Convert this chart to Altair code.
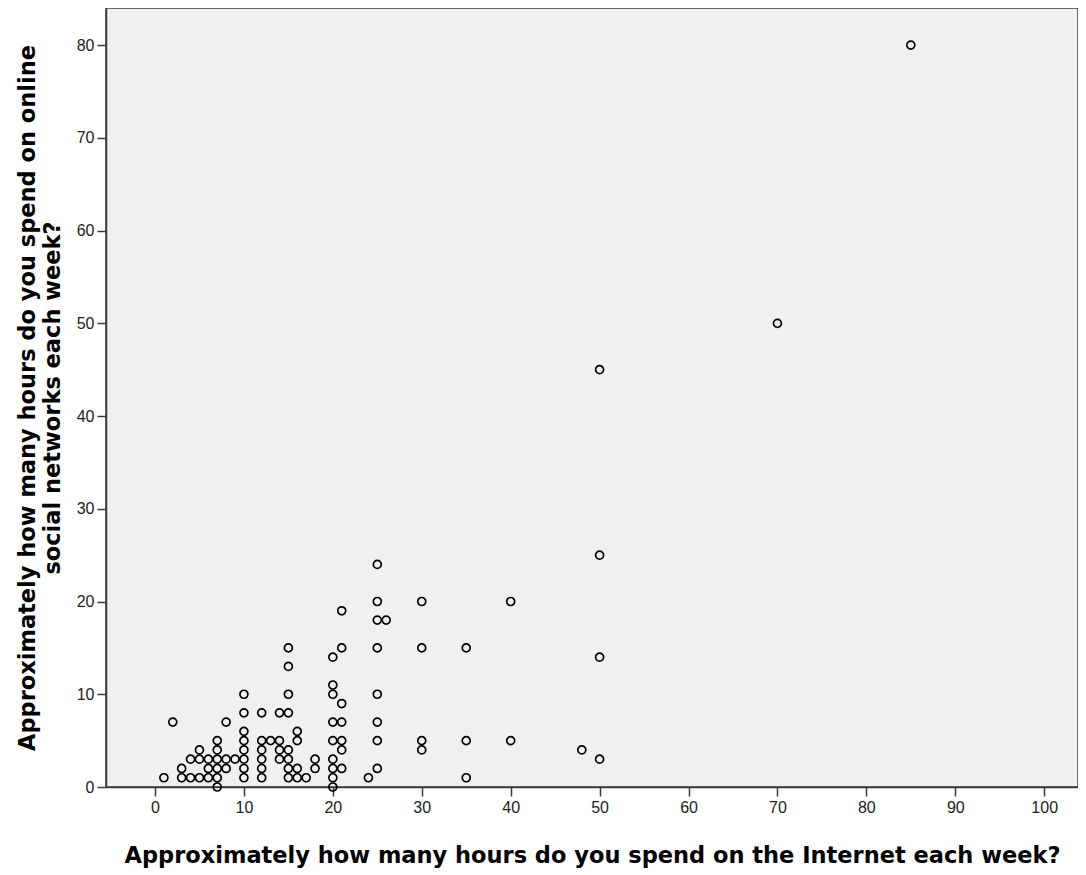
import altair as alt
import pandas as pd

internet_hours = [
    1, 2, 3, 3, 4, 4, 5, 5, 5, 6, 6, 6,
    7, 7, 7, 7, 7, 7, 8, 8, 8, 9,
    10, 10, 10, 10, 10, 10, 10, 10,
    12, 12, 12, 12, 12, 12, 13, 14, 14, 14, 14,
    15, 15, 15, 15, 15, 15, 15, 15,
    16, 16, 16, 16, 17, 18, 18,
    20, 20, 20, 20, 20, 20, 20, 20, 20,
    21, 21, 21, 21, 21, 21, 21, 24,
    25, 25, 25, 25, 25, 25, 25, 25, 26,
    30, 30, 30, 30, 35, 35, 35, 40, 40, 48,
    50, 50, 50, 50, 70, 85,
]
social_hours = [
    1, 7, 1, 2, 1, 3, 1, 3, 4, 1, 2, 3,
    0, 1, 2, 3, 4, 5, 2, 3, 7, 3,
    1, 2, 3, 4, 5, 6, 8, 10,
    1, 2, 3, 4, 5, 8, 5, 3, 4, 5, 8,
    1, 2, 3, 4, 8, 10, 13, 15,
    1, 2, 5, 6, 1, 2, 3,
    0, 1, 2, 3, 5, 7, 10, 11, 14,
    2, 4, 5, 7, 9, 15, 19, 1,
    2, 5, 7, 10, 15, 18, 20, 24, 18,
    4, 5, 15, 20, 1, 5, 15, 5, 20, 4,
    3, 14, 25, 45, 50, 80,
]

x_ticks = list(range(0, 101, 10))
y_ticks = list(range(0, 81, 10))

df = pd.DataFrame({"internet": internet_hours, "social": social_hours})

title_font = "DejaVu Sans"

chart = (
    alt.Chart(df)
    .mark_point(shape="circle", filled=False, color="#000000", strokeWidth=1.7, size=64, opacity=1)
    .encode(
        x=alt.X(
            "internet:Q",
            scale=alt.Scale(domain=[-5.51, 103.8], nice=False, zero=False),
            axis=alt.Axis(
                values=x_ticks,
                title="Approximately how many hours do you spend on the Internet each week?",
                titleFontSize=22.5,
                titleFontWeight="bold",
                titleFont=title_font,
                titleColor="#000000",
                titlePadding=29,
            ),
        ),
        y=alt.Y(
            "social:Q",
            scale=alt.Scale(domain=[0, 84.0], nice=False),
            axis=alt.Axis(
                values=y_ticks,
                title=["Approximately how many hours do you spend on online", "social networks each week?"],
                titleFontSize=22.5,
                titleFontWeight="bold",
                titleFont=title_font,
                titleColor="#000000",
                titlePadding=12,
                titleLineHeight=25,
            ),
        ),
    )
    .properties(
        width=972,
        height=779,
        autosize=alt.AutoSizeParams(type="none"),
        padding={"left": 98, "top": 0, "right": 0, "bottom": 85},
    )
    .configure_view(fill="#F0F0F0", stroke="#3a3a3a", strokeWidth=1.5)
    .configure_axis(
        grid=False,
        domainColor="#3a3a3a",
        domainWidth=1.5,
        tickColor="#3a3a3a",
        tickWidth=1.5,
        tickSize=9,
        labelFont="Liberation Sans",
        labelFontSize=16,
        labelColor="#222222",
        labelPadding=3,
    )
)

chart.save("out.html", embed_options={"renderer": "svg", "actions": False})
